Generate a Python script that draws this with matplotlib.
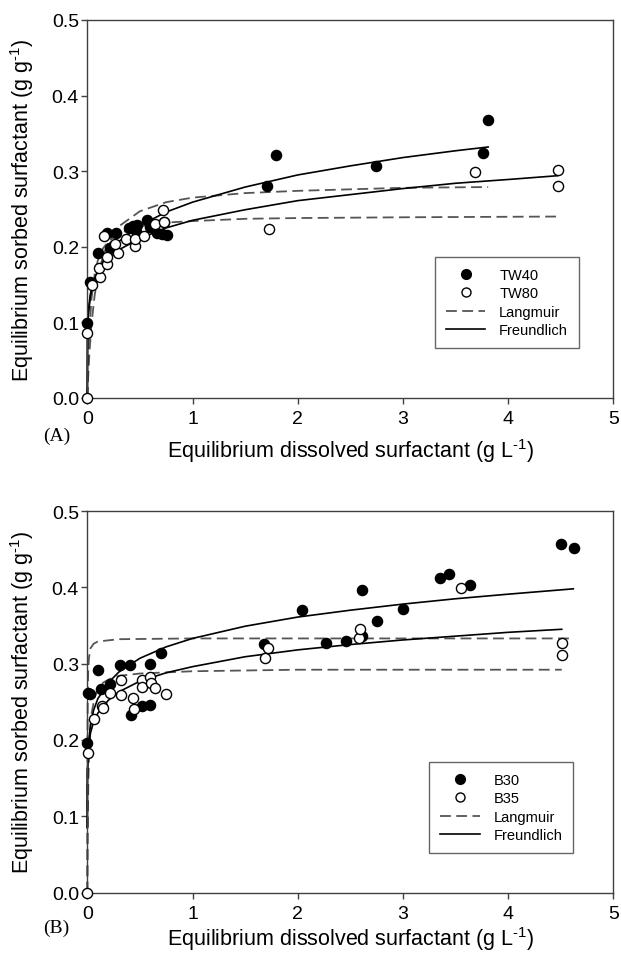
import matplotlib
matplotlib.use("Agg")
import matplotlib.pyplot as plt

plt.rcParams['font.family'] = ['Liberation Sans', 'DejaVu Sans']
plt.rcParams['mathtext.fontset'] = 'custom'
plt.rcParams['mathtext.rm'] = 'Liberation Sans'
plt.rcParams['mathtext.it'] = 'Liberation Sans:italic'
plt.rcParams['mathtext.bf'] = 'Liberation Sans:bold'

# ---- panel A : TW40 / TW80 ----
tw40_x = [0.0, 0.03, 0.105, 0.19, 0.215, 0.24, 0.27, 0.40, 0.437, 0.475, 0.46, 0.57, 0.60, 0.66, 0.71, 0.754, 0.73,
          1.71, 1.79, 2.74, 3.76, 3.81]
tw40_y = [0.099, 0.154, 0.192, 0.218, 0.199, 0.201, 0.218, 0.225, 0.228, 0.229, 0.221, 0.235, 0.226, 0.218, 0.217,
          0.215, 0.233, 0.280, 0.321, 0.307, 0.324, 0.368]
tw80_x = [0.0, 0.0, 0.04, 0.12, 0.11, 0.16, 0.19, 0.19, 0.29, 0.26, 0.37, 0.45, 0.45, 0.54, 0.64, 0.72, 0.73,
          1.73, 3.69, 4.47, 4.47]
tw80_y = [0.0, 0.086, 0.149, 0.160, 0.172, 0.214, 0.177, 0.187, 0.192, 0.204, 0.210, 0.201, 0.210, 0.214, 0.230,
          0.249, 0.233, 0.223, 0.299, 0.302, 0.281]

# fitted curves
fr40_x = [0, 0.002, 0.01, 0.03, 0.06, 0.1, 0.2, 0.3, 0.5, 0.75, 1.0, 1.5, 2.0, 2.5, 3.0, 3.5, 3.81]
fr40_y = [0, 0.082, 0.110, 0.135, 0.154, 0.169, 0.192, 0.207, 0.228, 0.246, 0.259, 0.279, 0.295, 0.307, 0.318,
          0.327, 0.332]
fr80_x = [0, 0.002, 0.01, 0.03, 0.06, 0.1, 0.2, 0.3, 0.5, 0.75, 1.0, 1.5, 2.0, 2.5, 3.0, 3.5, 4.0, 4.47]
fr80_y = [0, 0.092, 0.117, 0.138, 0.153, 0.166, 0.184, 0.196, 0.211, 0.225, 0.235, 0.249, 0.261, 0.269, 0.277,
          0.284, 0.289, 0.294]
la40_x = [0, 0.005, 0.01, 0.02, 0.04, 0.07, 0.1, 0.15, 0.2, 0.3, 0.5, 0.75, 1.0, 1.5, 2.0, 3.0, 3.81]
la40_y = [0, 0.017, 0.033, 0.059, 0.098, 0.136, 0.161, 0.188, 0.206, 0.227, 0.247, 0.259, 0.265, 0.271, 0.274,
          0.278, 0.279]
la80_x = [0, 0.005, 0.01, 0.02, 0.04, 0.07, 0.1, 0.15, 0.2, 0.3, 0.5, 0.75, 1.0, 1.5, 2.0, 3.0, 4.47]
la80_y = [0, 0.032, 0.056, 0.091, 0.132, 0.164, 0.182, 0.198, 0.207, 0.218, 0.227, 0.232, 0.234, 0.237, 0.238,
          0.239, 0.240]

# ---- panel B : B30 / B35 ----
b30_x = [0.0, 0.01, 0.03, 0.10, 0.13, 0.22, 0.31, 0.41, 0.42, 0.52, 0.60, 0.60, 0.70,
         1.68, 2.04, 2.27, 2.46, 2.61, 2.61, 2.75, 3.0, 3.35, 3.44, 3.64, 4.50, 4.63]
b30_y = [0.196, 0.262, 0.260, 0.292, 0.267, 0.273, 0.298, 0.298, 0.232, 0.245, 0.300, 0.246, 0.314,
         0.326, 0.370, 0.327, 0.329, 0.397, 0.336, 0.356, 0.372, 0.412, 0.417, 0.403, 0.457, 0.452]
b35_x = [0.0, 0.01, 0.06, 0.14, 0.15, 0.22, 0.32, 0.32, 0.43, 0.44, 0.52, 0.52, 0.60, 0.61, 0.64, 0.75,
         1.69, 1.72, 2.58, 2.59, 3.55, 4.51, 4.51]
b35_y = [0.0, 0.183, 0.228, 0.245, 0.242, 0.262, 0.279, 0.259, 0.255, 0.240, 0.279, 0.269, 0.282, 0.274, 0.268,
         0.260, 0.307, 0.320, 0.333, 0.345, 0.399, 0.327, 0.311]

fr30_x = [0, 0.0005, 0.002, 0.01, 0.03, 0.06, 0.1, 0.2, 0.3, 0.5, 0.75, 1.0, 1.5, 2.0, 2.5, 3.0, 3.5, 4.0, 4.62]
fr30_y = [0.085, 0.136, 0.160, 0.194, 0.220, 0.239, 0.254, 0.275, 0.289, 0.307, 0.322, 0.333, 0.349, 0.361,
          0.370, 0.378, 0.385, 0.391, 0.398]
fr35_x = [0, 0.0005, 0.002, 0.01, 0.03, 0.06, 0.1, 0.2, 0.3, 0.5, 0.75, 1.0, 1.5, 2.0, 2.5, 3.0, 3.5, 4.0, 4.51]
fr35_y = [0.085, 0.139, 0.159, 0.187, 0.209, 0.224, 0.235, 0.252, 0.263, 0.277, 0.288, 0.296, 0.309, 0.318,
          0.325, 0.331, 0.336, 0.341, 0.345]
la30_x = [0, 0.0005, 0.001, 0.002, 0.004, 0.008, 0.015, 0.03, 0.06, 0.1, 0.3, 1.0, 2.0, 3.0, 4.62]
la30_y = [0, 0.095, 0.148, 0.205, 0.254, 0.288, 0.307, 0.320, 0.326, 0.329, 0.332, 0.333, 0.333, 0.333, 0.333]
la35_x = [0, 0.005, 0.01, 0.02, 0.04, 0.07, 0.1, 0.15, 0.2, 0.3, 0.5, 1.0, 2.0, 4.51]
la35_y = [0, 0.098, 0.147, 0.195, 0.234, 0.256, 0.266, 0.275, 0.279, 0.284, 0.287, 0.290, 0.292, 0.292]

xticks = [0, 1, 2, 3, 4, 5]
yticks = [0.0, 0.1, 0.2, 0.3, 0.4, 0.5]

axis_grey = '#404040'
dash_grey = '#555555'


def draw_panel(ax, filled, hollow, lang, freund, names, tag, leg_anchor, ylab_y):
    # curves first so the markers sit on top
    for cx, cy in lang:
        ax.plot(cx, cy, color=dash_grey, lw=1.3, dashes=(6, 3), clip_on=False)
    for cx, cy in freund:
        ax.plot(cx, cy, color='black', lw=1.2, clip_on=False)
    ax.plot(filled[0], filled[1], 'o', ms=7.3, mfc='black', mec='black', mew=1, clip_on=False, zorder=4)
    ax.plot(hollow[0], hollow[1], 'o', ms=7.3, mfc='white', mec='black', mew=1, clip_on=False, zorder=5)

    ax.set_xlim(0, 5)
    ax.set_ylim(0, 0.5)
    ax.set_xticks(xticks)
    ax.set_yticks(yticks)
    ax.set_xticklabels([str(t) for t in xticks])
    ax.set_yticklabels(['%.1f' % t for t in yticks])
    ax.tick_params(direction='out', length=4, width=1, color=axis_grey, labelsize=14,
                   top=False, right=False)
    ax.tick_params(axis='x', pad=5)
    ax.tick_params(axis='y', pad=2)
    for sp in ax.spines.values():
        sp.set_color(axis_grey)
        sp.set_linewidth(1.0)

    ax.set_xlabel(r'Equilibrium dissolved surfactant (g L$^{\text{-}1}$)', fontsize=15.5, va='center')
    ax.xaxis.set_label_coords(0.5, ylab_y)
    ax.set_ylabel(r'Equilibrium sorbed surfactant (g g$^{\text{-}1}$)', fontsize=15.5, va='center')
    ax.yaxis.set_label_coords(-0.124, 0.5)

    handles = [
        plt.Line2D([], [], ls='none', marker='o', ms=7, mfc='black', mec='black'),
        plt.Line2D([], [], ls='none', marker='o', ms=6.5, mfc='white', mec='black'),
        plt.Line2D([], [], color=dash_grey, lw=1.3, dashes=(6, 3)),
        plt.Line2D([], [], color='black', lw=1.2),
    ]
    leg = ax.legend(handles, names, loc='upper left', bbox_to_anchor=leg_anchor, mode='expand',
                    fontsize=10.5, frameon=True, fancybox=False, borderpad=0.75, labelspacing=0.3,
                    handlelength=2.7, handletextpad=0.95, borderaxespad=0)
    leg.get_frame().set_edgecolor(axis_grey)
    leg.get_frame().set_linewidth(1.0)

    ax.text(-0.059, tag[1], tag[0], transform=ax.transAxes, fontsize=14, ha='center', va='center',
            family=['Liberation Serif', 'DejaVu Serif'])


fig = plt.figure(figsize=(6.21, 9.54), dpi=100)
ax1 = fig.add_axes([0.1406, 0.5818, 0.847, 0.3962])
ax2 = fig.add_axes([0.1406, 0.0634, 0.847, 0.3999])

draw_panel(ax1, (tw40_x, tw40_y), (tw80_x, tw80_y),
           [(la40_x, la40_y), (la80_x, la80_y)], [(fr40_x, fr40_y), (fr80_x, fr80_y)],
           ['TW40', 'TW80', 'Langmuir', 'Freundlich'], ('(A)', -0.10), (0.661, 0.124, 0.274, 0.249), -0.137)
draw_panel(ax2, (b30_x, b30_y), (b35_x, b35_y),
           [(la30_x, la30_y), (la35_x, la35_y)], [(fr30_x, fr30_y), (fr35_x, fr35_y)],
           ['B30', 'B35', 'Langmuir', 'Freundlich'], ('(B)', -0.09), (0.650, 0.096, 0.274, 0.246), -0.12)

fig.savefig('out.png', dpi=100)
